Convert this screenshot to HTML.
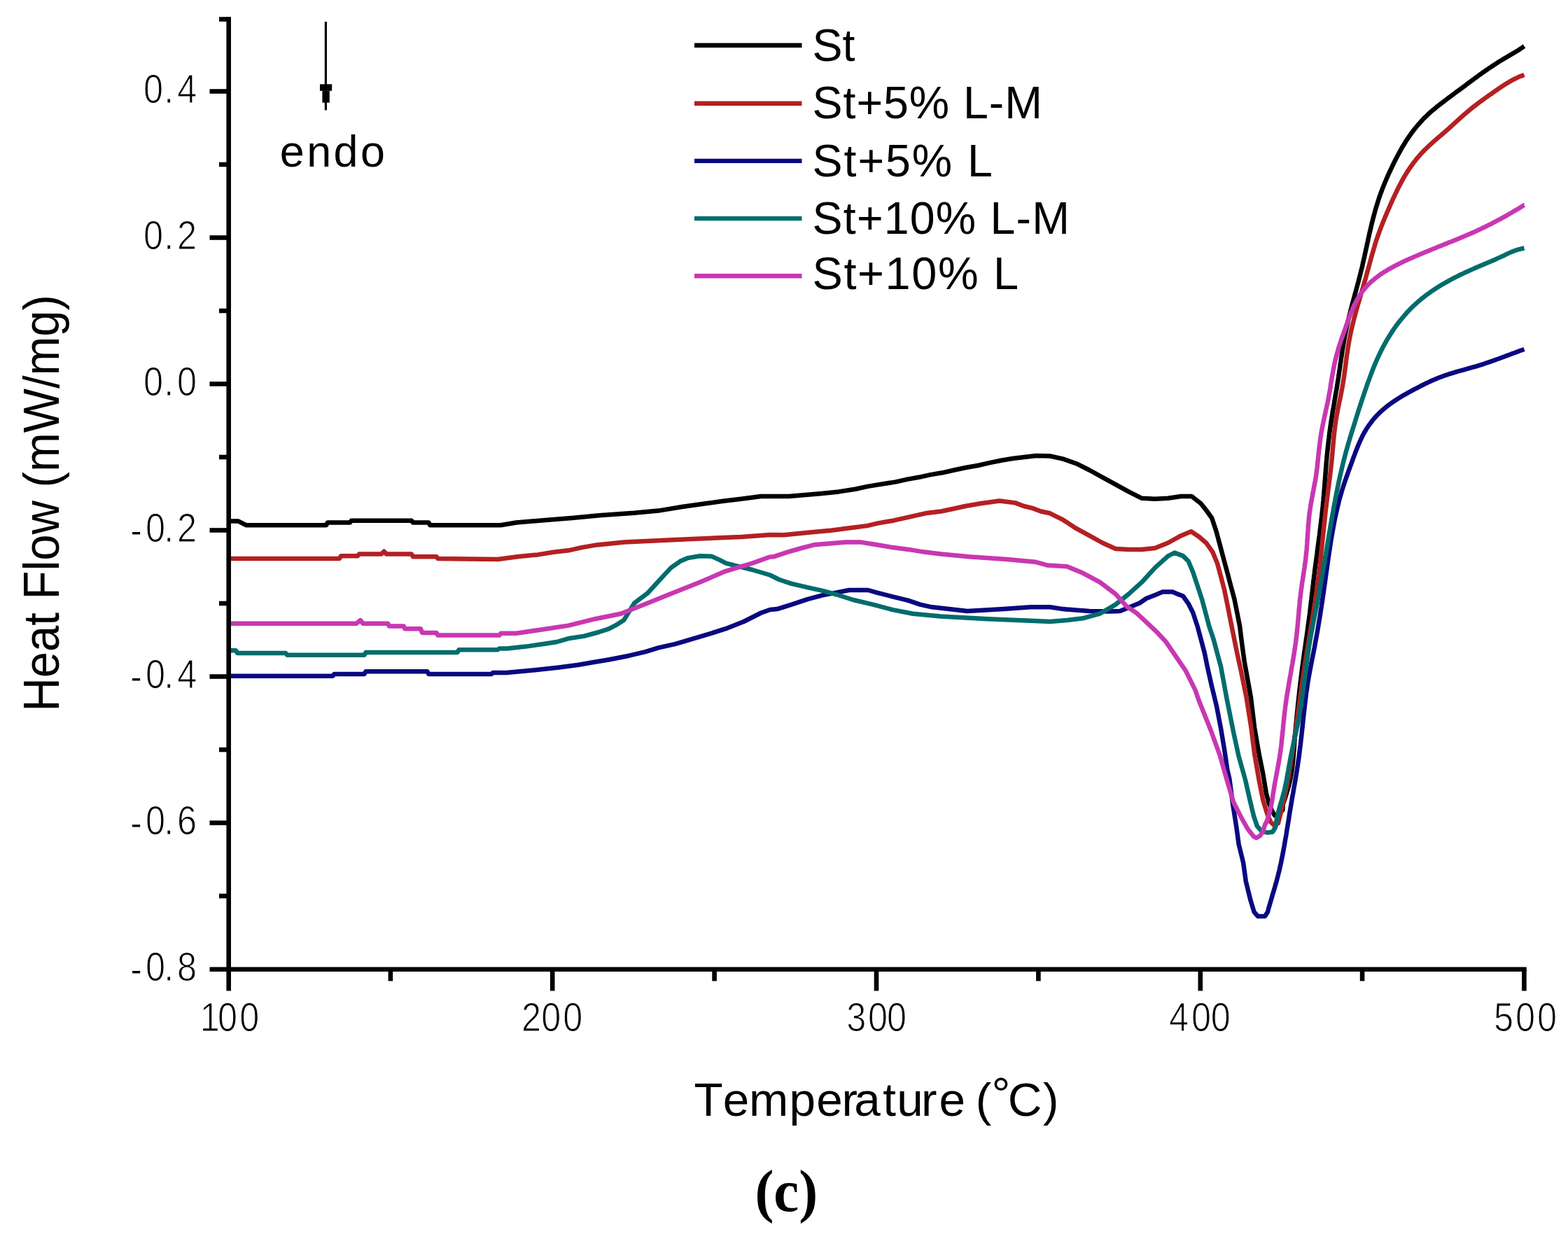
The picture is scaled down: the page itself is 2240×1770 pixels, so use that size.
<!DOCTYPE html>
<html><head><meta charset="utf-8"><title>Heat Flow</title>
<style>html,body{margin:0;padding:0;background:#fff;}svg{display:block;}</style></head>
<body><svg width="2240" height="1770" viewBox="0 0 2240 1770">
<rect x="0" y="0" width="2240" height="1770" fill="#ffffff"/>
<polyline points="326.5,744.6 340.6,744.6 351.9,750.3 466.1,750.3 468.0,746.5 499.9,746.5 502.0,743.7 587.9,743.7 590.0,746.5 612.3,746.5 614.5,750.3 715.3,750.3 737.5,746.5 782.4,742.8 817.1,740.0 856.4,736.2 906.1,732.8 940.7,729.6 974.5,724.0 1008.2,719.3 1031.6,716.0 1058.8,712.8 1087.3,709.0 1127.2,709.0 1171.2,705.2 1198.4,702.4 1221.8,698.7 1239.6,694.9 1256.4,692.1 1279.9,688.4 1296.7,684.6 1312.6,681.8 1329.5,678.1 1346.4,675.3 1363.2,671.5 1381.0,667.8 1397.0,665.0 1413.8,661.2 1431.6,657.5 1448.5,654.7 1480.3,650.9 1500.0,651.5 1518.7,655.6 1537.5,662.2 1556.2,671.5 1575.0,681.8 1593.7,692.1 1612.4,702.4 1631.2,711.8 1650.0,712.8 1668.6,711.8 1687.4,709.0 1702.4,709.0 1715.5,719.3 1724.0,730.0 1731.2,740.0 1737.6,759.3 1742.8,778.6 1747.9,797.9 1753.1,817.2 1758.2,836.6 1763.4,855.9 1767.3,875.2 1771.1,894.5 1774.3,920.2 1777.7,945.0 1786.9,995.9 1792.2,1040.0 1798.7,1077.5 1804.3,1105.5 1809.0,1133.6 1812.8,1147.7 1817.0,1158.0 1821.0,1165.0 1826.0,1164.0 1832.4,1157.0 1832.9,1148.6 1834.0,1145.5 1835.1,1142.4 1836.1,1139.2 1837.1,1136.0 1838.1,1132.8 1839.1,1129.6 1840.1,1126.4 1841.0,1123.1 1841.8,1119.7 1842.6,1116.3 1843.4,1112.9 1844.1,1109.4 1844.7,1105.8 1845.3,1102.2 1845.8,1098.5 1846.3,1094.8 1846.7,1091.0 1847.1,1087.2 1847.5,1083.4 1847.8,1079.5 1848.1,1075.6 1848.5,1071.8 1848.8,1067.9 1849.0,1063.9 1849.3,1060.0 1849.6,1056.1 1849.9,1052.2 1850.2,1048.3 1850.6,1044.5 1850.9,1040.6 1851.2,1036.7 1851.6,1032.9 1852.0,1029.1 1852.3,1025.2 1852.7,1021.4 1853.1,1017.6 1853.5,1013.8 1853.9,1010.0 1854.3,1006.2 1854.7,1002.4 1855.1,998.6 1855.5,994.8 1855.9,991.0 1856.3,987.2 1856.8,983.5 1857.2,979.7 1857.6,975.9 1858.1,972.2 1858.5,968.4 1859.0,964.7 1859.5,961.0 1859.9,957.2 1860.4,953.5 1860.9,949.8 1861.4,946.1 1861.9,942.4 1862.4,938.7 1862.9,935.0 1863.4,931.3 1863.9,927.6 1864.5,924.0 1865.0,920.3 1865.5,916.6 1866.0,912.9 1866.6,909.3 1867.1,905.6 1867.6,901.9 1868.1,898.2 1868.6,894.5 1869.1,890.8 1869.6,887.1 1870.1,883.4 1870.6,879.7 1871.1,875.9 1871.5,872.2 1872.0,868.5 1872.4,864.7 1872.8,860.9 1873.3,857.2 1873.7,853.4 1874.1,849.6 1874.6,845.9 1875.0,842.1 1875.4,838.3 1875.9,834.6 1876.3,830.8 1876.8,827.1 1877.2,823.3 1877.7,819.6 1878.1,815.8 1878.6,812.1 1879.1,808.4 1879.6,804.7 1880.1,801.0 1880.6,797.3 1881.1,793.6 1881.6,789.9 1882.0,786.1 1882.5,782.4 1883.0,778.7 1883.5,775.0 1884.0,771.3 1884.5,767.6 1885.0,763.9 1885.4,760.1 1885.9,756.4 1886.4,752.7 1886.8,748.9 1887.3,745.2 1887.7,741.4 1888.2,737.7 1888.6,733.9 1889.0,730.1 1889.4,726.3 1889.8,722.5 1890.1,718.6 1890.5,714.8 1890.8,710.9 1891.2,707.1 1891.5,703.2 1891.8,699.3 1892.1,695.4 1892.4,691.5 1892.7,687.6 1893.0,683.7 1893.3,679.8 1893.6,675.9 1893.9,672.0 1894.2,668.1 1894.5,664.2 1894.8,660.3 1895.2,656.5 1895.5,652.6 1895.9,648.8 1896.3,645.0 1896.7,641.2 1897.1,637.4 1897.5,633.6 1897.9,629.8 1898.4,626.1 1898.8,622.3 1899.3,618.6 1899.8,614.9 1900.3,611.2 1900.8,607.5 1901.4,603.9 1901.9,600.2 1902.5,596.6 1903.1,593.0 1903.6,589.3 1904.2,585.7 1904.9,582.1 1905.5,578.6 1906.1,575.0 1906.7,571.4 1907.3,567.8 1907.9,564.2 1908.5,560.6 1909.2,557.1 1909.8,553.5 1910.4,549.9 1910.9,546.2 1911.5,542.6 1912.1,539.0 1912.6,535.3 1913.1,531.6 1913.7,528.0 1914.2,524.3 1914.7,520.6 1915.3,517.0 1915.8,513.3 1916.3,509.6 1916.9,506.0 1917.4,502.3 1918.0,498.7 1918.6,495.1 1919.2,491.5 1919.8,487.9 1920.5,484.4 1921.1,480.8 1921.8,477.3 1922.5,473.8 1923.3,470.4 1924.0,466.9 1924.8,463.5 1925.5,460.0 1926.3,456.6 1927.1,453.2 1927.9,449.8 1928.8,446.5 1929.6,443.1 1930.5,439.8 1931.3,436.4 1932.2,433.1 1933.1,429.8 1934.0,426.5 1934.9,423.2 1935.8,419.9 1936.7,416.6 1937.6,413.3 1938.5,410.0 1939.4,406.7 1940.3,403.4 1941.1,400.0 1942.0,396.7 1942.9,393.4 1943.7,390.0 1944.5,386.6 1945.4,383.3 1946.2,379.9 1946.9,376.4 1947.7,373.0 1948.5,369.6 1949.3,366.2 1950.0,362.7 1950.8,359.3 1951.5,355.8 1952.3,352.4 1953.0,348.9 1953.8,345.5 1954.5,342.0 1955.3,338.6 1956.0,335.1 1956.8,331.7 1957.6,328.3 1958.4,324.9 1959.2,321.5 1960.0,318.1 1960.9,314.8 1961.7,311.4 1962.6,308.1 1963.5,304.8 1964.4,301.5 1965.3,298.2 1966.3,295.0 1967.3,291.8 1968.3,288.6 1969.3,285.4 1970.3,282.2 1971.4,279.1 1972.5,276.0 1973.7,273.0 1974.8,269.9 1976.0,266.9 1977.2,263.9 1978.4,260.9 1979.7,258.0 1980.9,255.0 1982.2,252.1 1983.5,249.2 1984.8,246.3 1986.2,243.5 1987.5,240.6 1988.9,237.8 1990.2,234.9 1991.6,232.1 1993.0,229.3 1994.4,226.5 1995.9,223.8 1997.3,221.0 1998.8,218.3 2000.3,215.6 2001.8,212.9 2003.3,210.2 2004.9,207.6 2006.5,205.0 2008.1,202.4 2009.7,199.8 2011.4,197.3 2013.1,194.8 2014.9,192.4 2016.6,189.9 2018.4,187.5 2020.2,185.1 2022.1,182.8 2024.0,180.5 2025.9,178.2 2027.9,176.0 2029.9,173.8 2031.9,171.6 2033.9,169.4 2036.0,167.3 2038.2,165.3 2040.3,163.2 2042.5,161.2 2044.7,159.2 2047.0,157.3 2049.3,155.4 2051.6,153.5 2053.9,151.6 2056.3,149.8 2058.6,147.9 2061.0,146.1 2063.4,144.3 2065.8,142.5 2068.2,140.7 2070.6,138.9 2073.0,137.1 2075.4,135.3 2077.8,133.5 2080.2,131.7 2082.6,129.9 2085.1,128.2 2087.5,126.4 2089.9,124.6 2092.3,122.8 2094.7,121.0 2097.1,119.2 2099.5,117.4 2101.9,115.6 2104.3,113.8 2106.7,112.0 2109.2,110.3 2111.6,108.5 2114.0,106.7 2116.5,105.0 2118.9,103.2 2121.4,101.5 2123.9,99.8 2126.4,98.1 2128.9,96.4 2131.4,94.7 2133.9,93.0 2136.5,91.4 2139.0,89.7 2141.6,88.1 2144.2,86.5 2146.8,84.9 2149.4,83.3 2152.1,81.8 2154.7,80.2 2157.4,78.7 2160.0,77.1 2162.7,75.6 2165.3,74.0 2167.9,72.4 2170.5,70.8 2173.0,69.1 2175.5,67.4 2177.5,66.0" fill="none" stroke="#000000" stroke-width="6.5" stroke-linejoin="round" stroke-linecap="butt"/>
<polyline points="326.5,798.0 484.9,798.0 487.0,794.3 511.1,794.3 513.0,791.5 544.8,791.5 548.6,787.7 552.0,791.5 587.9,791.5 590.0,795.2 623.5,795.2 625.5,798.0 711.2,799.0 739.3,795.2 768.4,792.4 790.9,788.7 814.3,785.9 831.1,782.1 852.7,778.4 892.0,774.6 966.0,770.9 1059.2,767.1 1100.0,764.0 1119.7,764.3 1157.1,760.5 1187.1,757.7 1216.2,754.0 1238.6,751.1 1254.6,747.4 1276.1,743.7 1293.0,739.9 1305.2,737.1 1322.0,733.3 1344.5,730.5 1362.3,726.8 1379.2,723.0 1400.7,719.3 1427.9,715.5 1450.4,718.4 1462.5,723.0 1474.7,725.9 1486.9,730.5 1500.0,733.3 1518.7,742.7 1537.5,754.9 1556.2,765.2 1575.0,775.5 1593.7,784.0 1612.4,784.9 1631.2,784.9 1650.0,783.0 1668.6,775.5 1687.4,765.2 1701.6,759.3 1713.2,767.0 1723.5,776.0 1732.5,788.9 1738.9,804.4 1744.1,823.7 1749.2,843.0 1754.4,868.7 1758.2,888.1 1762.1,907.4 1767.3,933.1 1772.4,956.3 1780.5,995.9 1787.5,1040.0 1792.2,1077.5 1798.7,1114.9 1804.3,1143.0 1810.0,1161.7 1815.0,1174.0 1820.0,1179.0 1826.0,1176.0 1830.0,1160.0 1830.8,1156.6 1831.6,1153.2 1832.4,1149.8 1833.2,1146.4 1834.0,1143.0 1834.8,1139.6 1835.5,1136.1 1836.2,1132.6 1836.9,1129.1 1837.6,1125.6 1838.3,1122.1 1839.0,1118.6 1839.6,1115.0 1840.3,1111.5 1840.9,1107.9 1841.5,1104.3 1842.1,1100.7 1842.7,1097.1 1843.3,1093.5 1843.9,1089.9 1844.5,1086.3 1845.1,1082.7 1845.6,1079.0 1846.2,1075.4 1846.7,1071.7 1847.3,1068.1 1847.8,1064.4 1848.3,1060.7 1848.9,1057.1 1849.4,1053.4 1849.9,1049.7 1850.4,1046.0 1851.0,1042.4 1851.5,1038.7 1852.0,1035.0 1852.5,1031.3 1853.0,1027.6 1853.5,1023.9 1854.0,1020.2 1854.5,1016.5 1855.1,1012.9 1855.6,1009.2 1856.1,1005.5 1856.6,1001.8 1857.1,998.1 1857.6,994.4 1858.1,990.7 1858.7,987.0 1859.2,983.4 1859.7,979.7 1860.2,976.0 1860.7,972.3 1861.3,968.7 1861.8,965.0 1862.3,961.3 1862.9,957.7 1863.4,954.0 1864.0,950.4 1864.5,946.7 1865.1,943.1 1865.7,939.5 1866.2,935.8 1866.8,932.2 1867.4,928.6 1868.0,925.0 1868.6,921.4 1869.2,917.8 1869.8,914.2 1870.4,910.6 1871.0,907.0 1871.6,903.4 1872.2,899.8 1872.8,896.1 1873.3,892.5 1873.9,888.9 1874.5,885.3 1875.1,881.7 1875.7,878.1 1876.3,874.5 1876.9,870.9 1877.4,867.2 1878.0,863.6 1878.6,860.0 1879.1,856.3 1879.6,852.6 1880.2,849.0 1880.7,845.3 1881.2,841.6 1881.7,837.9 1882.2,834.2 1882.7,830.5 1883.2,826.8 1883.7,823.1 1884.1,819.3 1884.6,815.6 1885.0,811.8 1885.5,808.1 1885.9,804.3 1886.3,800.5 1886.7,796.7 1887.1,792.9 1887.5,789.1 1887.9,785.3 1888.3,781.5 1888.7,777.7 1889.1,773.9 1889.5,770.1 1889.9,766.3 1890.3,762.5 1890.7,758.7 1891.1,754.9 1891.5,751.1 1891.9,747.3 1892.3,743.5 1892.7,739.7 1893.1,735.9 1893.5,732.1 1893.9,728.3 1894.4,724.6 1894.8,720.8 1895.3,717.1 1895.7,713.3 1896.2,709.6 1896.7,705.9 1897.1,702.1 1897.6,698.4 1898.1,694.7 1898.6,691.0 1899.0,687.2 1899.5,683.5 1900.0,679.8 1900.4,676.0 1900.9,672.3 1901.3,668.5 1901.7,664.7 1902.1,660.9 1902.5,657.1 1902.9,653.3 1903.2,649.4 1903.6,645.6 1903.9,641.7 1904.3,637.9 1904.6,634.0 1905.0,630.2 1905.3,626.3 1905.7,622.5 1906.1,618.7 1906.5,614.9 1907.0,611.2 1907.4,607.4 1907.9,603.7 1908.5,600.1 1909.1,596.5 1909.7,592.9 1910.4,589.4 1911.0,585.8 1911.7,582.3 1912.4,578.8 1913.1,575.3 1913.9,571.9 1914.6,568.4 1915.3,564.9 1916.0,561.4 1916.7,557.9 1917.4,554.4 1918.0,550.8 1918.6,547.2 1919.2,543.6 1919.8,540.0 1920.3,536.3 1920.8,532.6 1921.3,528.9 1921.8,525.2 1922.3,521.5 1922.8,517.8 1923.2,514.0 1923.7,510.3 1924.2,506.6 1924.8,503.0 1925.3,499.3 1925.9,495.7 1926.4,492.0 1927.1,488.5 1927.7,484.9 1928.4,481.4 1929.1,477.9 1929.8,474.4 1930.6,471.0 1931.4,467.6 1932.2,464.2 1933.0,460.8 1933.9,457.5 1934.7,454.1 1935.6,450.8 1936.5,447.5 1937.4,444.2 1938.3,440.9 1939.2,437.6 1940.1,434.3 1941.1,431.1 1942.0,427.8 1943.0,424.6 1943.9,421.3 1944.9,418.1 1945.8,414.8 1946.8,411.6 1947.7,408.3 1948.7,405.1 1949.6,401.8 1950.6,398.6 1951.5,395.3 1952.4,392.0 1953.3,388.7 1954.2,385.4 1955.1,382.1 1956.0,378.8 1956.9,375.5 1957.8,372.2 1958.7,368.9 1959.6,365.6 1960.5,362.3 1961.5,359.1 1962.4,355.8 1963.4,352.6 1964.3,349.3 1965.3,346.1 1966.3,342.9 1967.4,339.8 1968.5,336.7 1969.6,333.6 1970.7,330.5 1971.8,327.4 1973.0,324.4 1974.2,321.4 1975.3,318.3 1976.6,315.4 1977.8,312.4 1979.0,309.4 1980.3,306.5 1981.5,303.5 1982.8,300.6 1984.1,297.7 1985.3,294.7 1986.6,291.8 1987.9,288.9 1989.2,286.0 1990.5,283.1 1991.9,280.3 1993.2,277.4 1994.6,274.6 1995.9,271.7 1997.3,268.9 1998.7,266.1 2000.2,263.4 2001.6,260.6 2003.1,257.9 2004.6,255.2 2006.1,252.5 2007.7,249.9 2009.3,247.3 2010.9,244.7 2012.6,242.2 2014.3,239.7 2016.0,237.2 2017.8,234.8 2019.5,232.3 2021.4,230.0 2023.2,227.6 2025.1,225.3 2027.1,223.1 2029.0,220.8 2031.0,218.6 2033.1,216.5 2035.1,214.3 2037.3,212.3 2039.4,210.2 2041.6,208.2 2043.8,206.2 2046.0,204.2 2048.2,202.2 2050.4,200.2 2052.7,198.3 2055.0,196.3 2057.2,194.4 2059.5,192.5 2061.7,190.5 2064.0,188.6 2066.2,186.6 2068.5,184.7 2070.7,182.7 2072.9,180.7 2075.1,178.7 2077.3,176.7 2079.5,174.7 2081.7,172.7 2083.9,170.7 2086.1,168.7 2088.3,166.7 2090.5,164.7 2092.8,162.8 2095.0,160.8 2097.3,158.9 2099.6,157.0 2101.9,155.1 2104.2,153.2 2106.6,151.4 2109.0,149.5 2111.3,147.7 2113.7,145.9 2116.2,144.2 2118.6,142.4 2121.0,140.6 2123.5,138.9 2125.9,137.1 2128.4,135.4 2130.9,133.7 2133.4,132.0 2135.8,130.2 2138.3,128.5 2140.8,126.8 2143.3,125.1 2145.8,123.4 2148.3,121.7 2150.9,120.1 2153.5,118.5 2156.1,116.9 2158.8,115.4 2161.5,113.9 2164.3,112.5 2167.1,111.1 2170.0,109.8 2173.0,108.6 2176.1,107.5 2177.5,107.0" fill="none" stroke="#B42022" stroke-width="6.5" stroke-linejoin="round" stroke-linecap="butt"/>
<polyline points="326.5,965.7 475.5,965.7 477.5,962.9 520.5,962.9 522.5,959.2 610.4,959.2 612.4,962.9 702.2,962.9 704.2,961.0 723.4,961.0 763.7,957.3 798.4,953.5 826.5,949.8 848.0,946.0 870.5,942.3 898.6,936.7 922.0,931.1 940.7,925.4 965.1,919.8 990.4,912.3 1015.7,904.8 1039.1,897.3 1062.5,888.0 1087.3,875.5 1100.0,871.0 1110.3,870.1 1130.9,863.6 1153.4,856.1 1174.9,850.4 1213.3,843.0 1240.0,843.0 1252.7,846.7 1275.2,852.3 1297.7,857.9 1314.5,863.6 1331.4,867.3 1382.0,872.9 1433.5,870.1 1472.8,867.3 1500.0,867.3 1518.7,870.1 1556.2,873.0 1585.0,873.5 1600.0,873.0 1614.0,867.2 1628.1,861.5 1637.5,855.0 1651.5,849.4 1660.9,845.6 1675.0,845.6 1684.3,849.4 1690.0,851.5 1697.7,862.3 1704.2,875.2 1710.6,894.5 1715.8,913.8 1720.9,933.1 1724.8,952.4 1731.0,980.0 1738.0,1008.8 1744.0,1040.0 1749.5,1073.2 1753.4,1100.0 1756.4,1112.8 1761.3,1150.0 1766.1,1180.0 1769.7,1206.3 1776.2,1232.7 1779.8,1259.0 1786.3,1285.4 1791.6,1302.9 1797.0,1309.0 1807.0,1309.0 1811.0,1302.9 1811.8,1299.5 1812.7,1296.2 1813.7,1293.0 1814.6,1289.7 1815.6,1286.5 1816.5,1283.2 1817.5,1280.0 1818.4,1276.7 1819.4,1273.5 1820.4,1270.3 1821.3,1267.0 1822.2,1263.7 1823.2,1260.5 1824.1,1257.2 1824.9,1253.8 1825.8,1250.5 1826.6,1247.1 1827.5,1243.8 1828.2,1240.3 1829.0,1236.9 1829.8,1233.5 1830.5,1230.0 1831.2,1226.5 1831.9,1223.0 1832.6,1219.5 1833.3,1216.0 1833.9,1212.4 1834.6,1208.9 1835.2,1205.3 1835.8,1201.7 1836.4,1198.1 1837.1,1194.6 1837.7,1191.0 1838.2,1187.3 1838.8,1183.7 1839.4,1180.1 1840.0,1176.5 1840.6,1172.9 1841.2,1169.3 1841.7,1165.6 1842.3,1162.0 1842.9,1158.4 1843.5,1154.8 1844.1,1151.2 1844.7,1147.6 1845.3,1144.0 1845.9,1140.4 1846.5,1136.8 1847.2,1133.3 1847.8,1129.7 1848.4,1126.1 1849.0,1122.5 1849.7,1119.0 1850.3,1115.4 1850.9,1111.8 1851.5,1108.2 1852.1,1104.6 1852.7,1101.0 1853.2,1097.3 1853.8,1093.7 1854.3,1090.0 1854.9,1086.4 1855.4,1082.7 1855.9,1079.0 1856.4,1075.3 1856.8,1071.5 1857.3,1067.8 1857.8,1064.1 1858.2,1060.3 1858.6,1056.5 1859.1,1052.8 1859.5,1049.0 1859.9,1045.2 1860.3,1041.4 1860.7,1037.6 1861.1,1033.8 1861.5,1030.0 1861.9,1026.2 1862.3,1022.4 1862.7,1018.6 1863.2,1014.9 1863.6,1011.1 1864.0,1007.3 1864.5,1003.6 1864.9,999.8 1865.4,996.1 1865.8,992.3 1866.3,988.6 1866.9,985.0 1867.4,981.3 1867.9,977.6 1868.5,974.0 1869.1,970.4 1869.7,966.8 1870.4,963.3 1871.0,959.7 1871.7,956.2 1872.4,952.7 1873.0,949.1 1873.7,945.6 1874.4,942.1 1875.1,938.6 1875.8,935.1 1876.5,931.6 1877.2,928.1 1877.9,924.6 1878.5,921.0 1879.2,917.5 1879.8,913.9 1880.5,910.4 1881.1,906.8 1881.8,903.3 1882.4,899.7 1883.0,896.1 1883.6,892.5 1884.2,888.9 1884.8,885.3 1885.4,881.7 1886.0,878.1 1886.5,874.4 1887.1,870.8 1887.7,867.2 1888.2,863.5 1888.8,859.9 1889.3,856.2 1889.8,852.5 1890.4,848.9 1890.9,845.2 1891.4,841.5 1891.9,837.8 1892.5,834.2 1893.0,830.5 1893.5,826.8 1894.0,823.1 1894.5,819.4 1895.0,815.7 1895.6,812.1 1896.1,808.4 1896.6,804.7 1897.1,801.0 1897.6,797.3 1898.2,793.7 1898.7,790.0 1899.3,786.4 1899.8,782.7 1900.4,779.1 1900.9,775.4 1901.5,771.8 1902.1,768.2 1902.7,764.6 1903.3,761.0 1904.0,757.5 1904.6,753.9 1905.3,750.4 1905.9,746.8 1906.6,743.3 1907.3,739.8 1908.1,736.4 1908.8,732.9 1909.6,729.5 1910.4,726.1 1911.2,722.7 1912.0,719.3 1912.8,715.9 1913.7,712.6 1914.6,709.3 1915.6,706.1 1916.5,702.8 1917.5,699.6 1918.5,696.4 1919.5,693.2 1920.6,690.1 1921.6,686.9 1922.7,683.8 1923.8,680.7 1924.9,677.6 1926.0,674.5 1927.1,671.4 1928.2,668.3 1929.3,665.2 1930.5,662.2 1931.6,659.1 1932.7,656.0 1933.8,652.9 1935.0,649.9 1936.1,646.8 1937.3,643.8 1938.5,640.8 1939.7,637.8 1940.9,634.8 1942.2,631.9 1943.5,629.0 1944.8,626.1 1946.2,623.3 1947.6,620.5 1949.1,617.8 1950.7,615.2 1952.2,612.5 1953.9,610.0 1955.6,607.5 1957.4,605.1 1959.2,602.7 1961.0,600.3 1962.9,598.0 1964.9,595.8 1966.9,593.6 1969.0,591.5 1971.1,589.4 1973.3,587.4 1975.5,585.4 1977.8,583.5 1980.1,581.6 1982.4,579.7 1984.8,577.9 1987.3,576.2 1989.7,574.4 1992.2,572.7 1994.8,571.1 1997.3,569.4 1999.9,567.8 2002.5,566.2 2005.2,564.7 2007.9,563.2 2010.5,561.6 2013.2,560.1 2016.0,558.7 2018.7,557.2 2021.4,555.7 2024.2,554.3 2026.9,552.8 2029.7,551.4 2032.5,550.0 2035.3,548.6 2038.1,547.2 2041.0,545.9 2043.8,544.5 2046.7,543.2 2049.7,542.0 2052.6,540.7 2055.6,539.5 2058.7,538.4 2061.7,537.2 2064.8,536.1 2068.0,535.1 2071.1,534.0 2074.4,533.1 2077.6,532.1 2080.8,531.1 2084.1,530.2 2087.4,529.3 2090.7,528.4 2094.0,527.5 2097.2,526.5 2100.5,525.6 2103.8,524.7 2107.1,523.8 2110.3,522.8 2113.5,521.8 2116.7,520.8 2119.9,519.8 2123.0,518.7 2126.2,517.7 2129.3,516.6 2132.4,515.5 2135.5,514.4 2138.6,513.3 2141.7,512.2 2144.7,511.0 2147.8,509.9 2150.8,508.7 2153.9,507.6 2157.0,506.5 2160.0,505.3 2163.1,504.2 2166.2,503.1 2169.2,501.9 2172.3,500.8 2175.4,499.7 2177.5,499.0" fill="none" stroke="#0A0880" stroke-width="6.5" stroke-linejoin="round" stroke-linecap="butt"/>
<polyline points="326.5,929.2 336.9,929.2 339.0,932.9 408.0,932.9 410.0,935.7 520.5,935.7 522.5,932.0 653.5,932.0 655.5,928.2 711.0,928.2 713.4,926.4 724.0,926.4 751.5,923.6 777.8,919.8 795.6,917.0 811.5,912.3 834.9,908.6 855.5,903.0 869.6,898.3 880.8,892.6 891.1,886.1 906.1,861.7 924.8,847.7 943.6,827.1 958.5,811.1 971.7,801.8 982.9,797.1 999.8,794.3 1016.6,794.7 1027.9,799.9 1037.2,804.6 1056.0,809.3 1074.7,814.0 1100.0,821.5 1113.1,828.0 1130.0,833.6 1153.4,839.2 1174.9,843.9 1195.6,849.5 1219.0,857.0 1247.1,863.6 1275.2,871.1 1304.2,876.7 1343.6,880.4 1411.0,884.2 1477.9,887.0 1500.0,887.9 1524.4,886.0 1546.8,883.3 1571.2,876.7 1593.7,863.6 1612.4,848.6 1631.2,831.7 1650.0,811.1 1668.6,794.3 1678.0,789.6 1690.0,794.1 1697.7,801.8 1704.2,817.2 1710.6,836.6 1717.0,855.9 1722.2,875.2 1727.3,894.5 1733.8,913.8 1738.9,933.1 1744.1,952.4 1752.1,995.9 1762.4,1047.4 1769.5,1080.0 1779.0,1114.0 1785.6,1143.0 1791.2,1166.4 1796.0,1180.4 1802.0,1187.0 1810.0,1189.5 1818.0,1188.5 1822.0,1182.0 1822.6,1178.8 1823.1,1175.1 1823.7,1171.5 1824.4,1168.0 1825.1,1164.5 1825.9,1161.1 1826.8,1157.8 1827.7,1154.5 1828.6,1151.2 1829.6,1148.0 1830.5,1144.7 1831.5,1141.5 1832.4,1138.2 1833.3,1134.9 1834.2,1131.6 1835.0,1128.2 1835.7,1124.7 1836.5,1121.3 1837.2,1117.8 1837.9,1114.3 1838.5,1110.7 1839.2,1107.2 1839.8,1103.6 1840.5,1100.1 1841.1,1096.5 1841.7,1092.9 1842.4,1089.4 1843.0,1085.8 1843.7,1082.3 1844.4,1078.8 1845.1,1075.3 1845.8,1071.8 1846.5,1068.3 1847.3,1064.9 1848.0,1061.4 1848.8,1058.0 1849.5,1054.5 1850.3,1051.1 1851.1,1047.7 1851.8,1044.2 1852.5,1040.7 1853.3,1037.3 1854.0,1033.8 1854.7,1030.3 1855.3,1026.7 1856.0,1023.2 1856.6,1019.6 1857.2,1016.0 1857.8,1012.4 1858.4,1008.8 1858.9,1005.1 1859.5,1001.5 1860.0,997.8 1860.5,994.1 1861.0,990.4 1861.5,986.7 1862.0,983.0 1862.5,979.3 1863.0,975.6 1863.5,971.9 1864.0,968.2 1864.4,964.4 1864.9,960.7 1865.4,957.0 1865.9,953.3 1866.4,949.6 1866.9,945.9 1867.4,942.2 1867.9,938.5 1868.4,934.8 1868.9,931.1 1869.5,927.5 1870.0,923.8 1870.6,920.2 1871.2,916.6 1871.8,913.0 1872.4,909.4 1873.1,905.9 1873.7,902.3 1874.4,898.8 1875.1,895.3 1875.7,891.7 1876.4,888.2 1877.1,884.7 1877.8,881.2 1878.5,877.7 1879.2,874.2 1879.9,870.7 1880.6,867.2 1881.3,863.7 1882.0,860.2 1882.6,856.6 1883.3,853.1 1883.9,849.5 1884.6,846.0 1885.3,842.5 1885.9,838.9 1886.5,835.3 1887.2,831.8 1887.8,828.2 1888.4,824.6 1889.1,821.1 1889.7,817.5 1890.3,813.9 1890.9,810.3 1891.5,806.7 1892.1,803.1 1892.7,799.5 1893.3,795.9 1893.9,792.3 1894.5,788.7 1895.1,785.1 1895.7,781.5 1896.3,777.9 1896.9,774.3 1897.5,770.7 1898.1,767.1 1898.7,763.5 1899.3,759.9 1899.9,756.3 1900.5,752.7 1901.1,749.1 1901.7,745.5 1902.4,742.0 1903.0,738.4 1903.6,734.8 1904.3,731.3 1904.9,727.7 1905.5,724.1 1906.2,720.6 1906.9,717.1 1907.5,713.5 1908.2,710.0 1908.9,706.5 1909.6,703.0 1910.3,699.5 1911.0,696.0 1911.7,692.5 1912.4,689.0 1913.2,685.6 1913.9,682.1 1914.7,678.7 1915.5,675.3 1916.3,671.9 1917.1,668.5 1917.9,665.1 1918.7,661.7 1919.5,658.3 1920.4,655.0 1921.3,651.7 1922.1,648.3 1923.0,645.0 1923.9,641.7 1924.9,638.5 1925.8,635.2 1926.7,631.9 1927.7,628.7 1928.6,625.4 1929.6,622.2 1930.6,619.0 1931.6,615.8 1932.6,612.6 1933.6,609.4 1934.6,606.2 1935.6,603.0 1936.6,599.8 1937.6,596.6 1938.6,593.4 1939.6,590.2 1940.6,587.0 1941.6,583.8 1942.7,580.7 1943.7,577.5 1944.7,574.3 1945.8,571.2 1946.8,568.0 1947.9,564.9 1948.9,561.7 1950.0,558.6 1951.1,555.5 1952.2,552.4 1953.2,549.2 1954.3,546.1 1955.5,543.1 1956.6,540.0 1957.7,536.9 1958.9,533.9 1960.0,530.8 1961.2,527.8 1962.4,524.8 1963.6,521.8 1964.9,518.9 1966.1,515.9 1967.4,513.0 1968.7,510.1 1970.1,507.3 1971.4,504.4 1972.8,501.6 1974.2,498.8 1975.6,496.0 1977.1,493.3 1978.6,490.6 1980.1,487.9 1981.6,485.2 1983.2,482.6 1984.8,480.0 1986.4,477.4 1988.1,474.9 1989.7,472.3 1991.4,469.8 1993.2,467.4 1994.9,464.9 1996.7,462.5 1998.5,460.1 2000.4,457.8 2002.3,455.5 2004.2,453.2 2006.1,450.9 2008.1,448.7 2010.0,446.4 2012.1,444.3 2014.1,442.1 2016.2,440.0 2018.3,437.9 2020.5,435.9 2022.7,433.9 2024.9,431.9 2027.1,429.9 2029.4,428.0 2031.7,426.1 2034.1,424.3 2036.4,422.4 2038.8,420.6 2041.3,418.9 2043.7,417.1 2046.2,415.4 2048.7,413.7 2051.3,412.1 2053.8,410.4 2056.4,408.8 2059.0,407.2 2061.7,405.7 2064.3,404.1 2067.0,402.6 2069.7,401.1 2072.4,399.6 2075.2,398.2 2077.9,396.7 2080.7,395.3 2083.5,393.9 2086.3,392.5 2089.2,391.2 2092.0,389.8 2094.9,388.5 2097.8,387.2 2100.7,385.9 2103.6,384.6 2106.5,383.3 2109.4,382.0 2112.4,380.8 2115.3,379.5 2118.3,378.3 2121.2,377.0 2124.2,375.8 2127.1,374.5 2130.1,373.3 2133.0,372.0 2135.9,370.7 2138.8,369.4 2141.7,368.1 2144.6,366.8 2147.5,365.5 2150.3,364.1 2153.1,362.7 2156.0,361.4 2158.9,360.1 2161.9,358.9 2165.0,357.8 2168.1,356.7 2171.4,355.8 2174.8,355.0 2177.5,354.5" fill="none" stroke="#026C6C" stroke-width="6.5" stroke-linejoin="round" stroke-linecap="butt"/>
<polyline points="326.5,890.8 509.2,890.8 514.8,886.1 518.6,890.8 554.2,890.8 556.0,894.5 576.7,894.5 578.5,898.3 601.0,898.3 603.0,903.9 623.5,903.9 625.5,907.6 713.4,907.6 715.4,904.8 737.5,904.8 775.0,899.2 812.0,893.6 850.0,884.2 887.0,876.7 924.8,861.7 962.0,846.7 999.8,831.8 1037.0,815.8 1074.7,804.6 1100.0,795.5 1105.6,795.2 1125.3,788.6 1145.0,783.0 1162.8,778.3 1208.7,774.6 1230.0,774.6 1252.7,778.3 1275.2,782.1 1297.7,784.9 1320.1,788.6 1344.5,791.4 1383.8,795.2 1438.2,798.9 1478.5,802.7 1495.7,807.4 1524.4,809.3 1546.8,818.6 1571.2,831.7 1593.7,848.6 1609.4,866.2 1623.4,875.6 1637.5,888.7 1651.5,901.8 1665.6,916.8 1679.6,937.4 1693.7,958.0 1707.7,986.1 1712.4,1000.0 1730.0,1044.0 1743.0,1080.0 1752.3,1112.8 1762.0,1145.6 1774.4,1170.0 1783.0,1185.0 1790.8,1194.8 1795.0,1197.0 1800.0,1194.0 1804.0,1188.0 1807.0,1178.4 1808.5,1175.7 1809.8,1172.8 1811.0,1169.8 1812.0,1166.6 1813.0,1163.4 1813.9,1160.1 1814.7,1156.7 1815.5,1153.3 1816.1,1149.7 1816.8,1146.2 1817.4,1142.6 1818.0,1139.0 1818.5,1135.3 1819.1,1131.7 1819.7,1128.1 1820.3,1124.5 1820.9,1120.9 1821.5,1117.3 1822.2,1113.8 1822.8,1110.2 1823.5,1106.7 1824.2,1103.2 1824.8,1099.6 1825.5,1096.1 1826.1,1092.5 1826.8,1089.0 1827.4,1085.4 1828.0,1081.8 1828.5,1078.1 1829.1,1074.5 1829.6,1070.8 1830.1,1067.1 1830.5,1063.3 1830.9,1059.5 1831.3,1055.7 1831.7,1051.9 1832.1,1048.1 1832.5,1044.3 1832.9,1040.5 1833.2,1036.6 1833.6,1032.8 1834.0,1029.0 1834.4,1025.2 1834.8,1021.4 1835.2,1017.6 1835.7,1013.9 1836.1,1010.1 1836.6,1006.4 1837.1,1002.7 1837.7,999.1 1838.2,995.4 1838.8,991.8 1839.4,988.2 1840.0,984.6 1840.6,981.0 1841.2,977.4 1841.8,973.8 1842.4,970.2 1843.0,966.6 1843.7,963.1 1844.3,959.5 1844.9,955.9 1845.5,952.3 1846.2,948.8 1846.8,945.2 1847.4,941.6 1848.0,938.0 1848.6,934.4 1849.1,930.7 1849.7,927.1 1850.2,923.4 1850.8,919.8 1851.3,916.1 1851.7,912.3 1852.2,908.6 1852.6,904.8 1853.0,901.0 1853.4,897.2 1853.8,893.4 1854.1,889.5 1854.5,885.7 1854.8,881.8 1855.2,878.0 1855.5,874.1 1855.8,870.2 1856.2,866.4 1856.6,862.6 1856.9,858.7 1857.3,854.9 1857.8,851.2 1858.2,847.4 1858.7,843.7 1859.2,840.0 1859.7,836.3 1860.2,832.6 1860.8,829.0 1861.4,825.4 1861.9,821.7 1862.5,818.1 1863.0,814.4 1863.6,810.8 1864.1,807.1 1864.6,803.4 1865.1,799.7 1865.5,795.9 1865.9,792.1 1866.3,788.3 1866.7,784.5 1867.0,780.6 1867.3,776.7 1867.5,772.7 1867.8,768.8 1868.0,764.8 1868.3,760.9 1868.6,757.0 1868.8,753.0 1869.1,749.1 1869.5,745.3 1869.8,741.4 1870.2,737.6 1870.6,733.8 1871.1,730.1 1871.7,726.5 1872.2,722.8 1872.8,719.2 1873.5,715.7 1874.1,712.1 1874.8,708.6 1875.4,705.0 1876.1,701.5 1876.8,698.0 1877.5,694.5 1878.1,690.9 1878.8,687.4 1879.4,683.8 1880.0,680.2 1880.5,676.5 1881.0,672.8 1881.5,669.1 1881.9,665.3 1882.3,661.5 1882.7,657.7 1883.1,653.9 1883.5,650.1 1883.9,646.3 1884.3,642.5 1884.8,638.8 1885.2,635.0 1885.7,631.3 1886.1,627.5 1886.7,623.9 1887.2,620.2 1887.8,616.6 1888.5,613.1 1889.2,609.6 1889.9,606.1 1890.6,602.6 1891.3,599.1 1892.1,595.7 1892.8,592.2 1893.6,588.8 1894.3,585.3 1895.1,581.9 1895.8,578.4 1896.6,575.0 1897.3,571.5 1898.0,568.0 1898.6,564.4 1899.2,560.8 1899.9,557.3 1900.5,553.7 1901.0,550.0 1901.6,546.4 1902.2,542.8 1902.8,539.2 1903.4,535.6 1904.1,532.1 1904.7,528.5 1905.4,525.0 1906.1,521.5 1906.8,518.0 1907.6,514.6 1908.4,511.2 1909.3,507.9 1910.2,504.6 1911.1,501.3 1912.0,498.0 1913.0,494.8 1914.0,491.6 1915.1,488.5 1916.1,485.3 1917.2,482.2 1918.3,479.1 1919.4,476.0 1920.5,472.9 1921.6,469.8 1922.7,466.7 1923.8,463.6 1924.9,460.5 1926.0,457.4 1927.1,454.3 1928.3,451.3 1929.4,448.2 1930.6,445.2 1931.9,442.3 1933.1,439.3 1934.4,436.4 1935.8,433.6 1937.2,430.8 1938.7,428.1 1940.2,425.4 1941.8,422.8 1943.4,420.2 1945.2,417.8 1947.0,415.4 1948.9,413.1 1950.8,410.8 1952.8,408.6 1954.8,406.4 1957.0,404.4 1959.1,402.3 1961.4,400.4 1963.7,398.5 1966.0,396.6 1968.4,394.8 1970.8,393.0 1973.3,391.3 1975.8,389.6 1978.4,388.0 1981.0,386.4 1983.6,384.8 1986.3,383.3 1989.0,381.8 1991.7,380.3 1994.5,378.9 1997.3,377.5 2000.1,376.1 2002.9,374.7 2005.8,373.4 2008.6,372.0 2011.5,370.7 2014.4,369.4 2017.4,368.2 2020.3,366.9 2023.2,365.6 2026.2,364.4 2029.1,363.1 2032.1,361.9 2035.0,360.6 2038.0,359.4 2041.0,358.2 2044.0,357.0 2047.0,355.8 2050.0,354.6 2052.9,353.3 2055.9,352.1 2058.9,350.9 2061.9,349.7 2064.9,348.5 2067.9,347.3 2070.9,346.1 2073.9,344.9 2076.9,343.7 2079.9,342.5 2082.9,341.3 2085.8,340.0 2088.8,338.8 2091.7,337.5 2094.7,336.3 2097.6,335.0 2100.6,333.8 2103.5,332.5 2106.4,331.2 2109.3,329.9 2112.1,328.5 2115.0,327.2 2117.8,325.8 2120.7,324.5 2123.5,323.1 2126.3,321.7 2129.1,320.3 2131.9,318.9 2134.6,317.4 2137.4,316.0 2140.1,314.5 2142.9,313.1 2145.6,311.6 2148.3,310.1 2151.0,308.6 2153.7,307.1 2156.3,305.5 2159.0,304.0 2161.6,302.4 2164.3,300.9 2166.9,299.3 2169.6,297.8 2172.2,296.2 2174.8,294.6 2177.4,293.0 2177.5,293.0" fill="none" stroke="#C837B2" stroke-width="6.5" stroke-linejoin="round" stroke-linecap="butt"/>
<g stroke="#000" stroke-width="6.6" fill="none" stroke-linecap="butt">
<line x1="326.7" y1="24.0" x2="326.7" y2="1415.5"/>
<line x1="299.5" y1="1384.8" x2="2180.7" y2="1384.8"/>
<line x1="299.5" y1="130.5" x2="326.7" y2="130.5"/>
<line x1="299.5" y1="339.5" x2="326.7" y2="339.5"/>
<line x1="299.5" y1="548.5" x2="326.7" y2="548.5"/>
<line x1="299.5" y1="757.5" x2="326.7" y2="757.5"/>
<line x1="299.5" y1="966.5" x2="326.7" y2="966.5"/>
<line x1="299.5" y1="1175.5" x2="326.7" y2="1175.5"/>
<line x1="313" y1="27.5" x2="326.7" y2="27.5"/>
<line x1="313" y1="235.0" x2="326.7" y2="235.0"/>
<line x1="313" y1="444.0" x2="326.7" y2="444.0"/>
<line x1="313" y1="653.0" x2="326.7" y2="653.0"/>
<line x1="313" y1="862.0" x2="326.7" y2="862.0"/>
<line x1="313" y1="1071.0" x2="326.7" y2="1071.0"/>
<line x1="313" y1="1280.0" x2="326.7" y2="1280.0"/>
<line x1="789.2" y1="1384.8" x2="789.2" y2="1415.5"/>
<line x1="1252.0" y1="1384.8" x2="1252.0" y2="1415.5"/>
<line x1="1714.8" y1="1384.8" x2="1714.8" y2="1415.5"/>
<line x1="2177.4" y1="1384.8" x2="2177.4" y2="1415.5"/>
<line x1="557.9" y1="1384.8" x2="557.9" y2="1401.5"/>
<line x1="1020.6" y1="1384.8" x2="1020.6" y2="1401.5"/>
<line x1="1483.4" y1="1384.8" x2="1483.4" y2="1401.5"/>
<line x1="1946.1" y1="1384.8" x2="1946.1" y2="1401.5"/>
</g>
<text font-family='"Liberation Sans", Arial, sans-serif' font-size='57.3' transform='translate(0 146.80) scale(0.88 1)' x='232.85 266.21 287.65' y='0' stroke='#fff' stroke-width='1.2'>0.4</text>
<text font-family='"Liberation Sans", Arial, sans-serif' font-size='57.3' transform='translate(0 355.80) scale(0.88 1)' x='232.85 266.21 287.51' y='0' stroke='#fff' stroke-width='1.2'>0.2</text>
<text font-family='"Liberation Sans", Arial, sans-serif' font-size='57.3' transform='translate(0 564.80) scale(0.88 1)' x='232.85 266.21 287.51' y='0' stroke='#fff' stroke-width='1.2'>0.0</text>
<text font-family='"Liberation Sans", Arial, sans-serif' font-size='57.3' transform='translate(0 773.80) scale(0.88 1)' x='211.54 236.37 266.21 287.51' y='0' stroke='#fff' stroke-width='1.2'><tspan dy='3.0'>-</tspan><tspan dy='-3.0'>0.2</tspan></text>
<text font-family='"Liberation Sans", Arial, sans-serif' font-size='57.3' transform='translate(0 982.80) scale(0.88 1)' x='211.54 236.37 266.21 287.65' y='0' stroke='#fff' stroke-width='1.2'><tspan dy='3.0'>-</tspan><tspan dy='-3.0'>0.4</tspan></text>
<text font-family='"Liberation Sans", Arial, sans-serif' font-size='57.3' transform='translate(0 1191.80) scale(0.88 1)' x='211.54 236.37 266.21 287.37' y='0' stroke='#fff' stroke-width='1.2'><tspan dy='3.0'>-</tspan><tspan dy='-3.0'>0.6</tspan></text>
<text font-family='"Liberation Sans", Arial, sans-serif' font-size='57.3' transform='translate(0 1400.80) scale(0.88 1)' x='211.54 236.37 266.21 287.37' y='0' stroke='#fff' stroke-width='1.2'><tspan dy='3.0'>-</tspan><tspan dy='-3.0'>0.8</tspan></text>
<text font-family='"Liberation Sans", Arial, sans-serif' font-size='57.3' transform='translate(0 1473.00) scale(0.88 1)' x='324.86 353.53 388.99' y='0' stroke='#fff' stroke-width='1.2'>100</text>
<text font-family='"Liberation Sans", Arial, sans-serif' font-size='57.3' transform='translate(0 1473.00) scale(0.88 1)' x='846.60 878.64 913.99' y='0' stroke='#fff' stroke-width='1.2'>200</text>
<text font-family='"Liberation Sans", Arial, sans-serif' font-size='57.3' transform='translate(0 1473.00) scale(0.88 1)' x='1374.02 1408.99 1439.78' y='0' stroke='#fff' stroke-width='1.2'>300</text>
<text font-family='"Liberation Sans", Arial, sans-serif' font-size='57.3' transform='translate(0 1473.00) scale(0.88 1)' x='1897.65 1934.10 1965.58' y='0' stroke='#fff' stroke-width='1.2'>400</text>
<text font-family='"Liberation Sans", Arial, sans-serif' font-size='57.3' transform='translate(0 1473.00) scale(0.88 1)' x='2425.12 2460.12 2495.46' y='0' stroke='#fff' stroke-width='1.2'>500</text>
<text font-family='"Liberation Sans", Arial, sans-serif' font-size='67.5' transform='translate(0 1593.70)' x='991.44 1032.77 1069.99 1127.42 1166.37 1202.58 1220.25 1261.28 1281.27 1315.88 1341.47 1367.59 1393.71 1416.60 1439.86 1490.05' y='0'>Temperature (<tspan dy='-7.50'>°</tspan><tspan dy='7.50'>C</tspan>)</text>
<text font-family='"Liberation Sans", Arial, sans-serif' font-size='73.0' transform='translate(84.30 1016.60) rotate(-90)' x='0' y='0' textLength='595.54' lengthAdjust='spacingAndGlyphs'>Heat Flow (mW/mg)</text>
<line x1="992" y1="64.8" x2="1145.5" y2="64.8" stroke="#000000" stroke-width="6.4"/>
<text font-family='"Liberation Sans", Arial, sans-serif' font-size='64.55' x='1160.60' y='87.40' textLength='60.80' lengthAdjust='spacing'>St</text>
<line x1="992" y1="147.7" x2="1145.5" y2="147.7" stroke="#B42022" stroke-width="6.4"/>
<text font-family='"Liberation Sans", Arial, sans-serif' font-size='64.55' x='1160.60' y='169.20' textLength='328.40' lengthAdjust='spacing'>St+5% L-M</text>
<line x1="992" y1="229.9" x2="1145.5" y2="229.9" stroke="#0A0880" stroke-width="6.4"/>
<text font-family='"Liberation Sans", Arial, sans-serif' font-size='64.55' x='1160.60' y='252.00' textLength='257.20' lengthAdjust='spacing'>St+5% L</text>
<line x1="992" y1="312.1" x2="1145.5" y2="312.1" stroke="#026C6C" stroke-width="6.4"/>
<text font-family='"Liberation Sans", Arial, sans-serif' font-size='64.55' x='1160.60' y='333.80' textLength='367.40' lengthAdjust='spacing'>St+10% L-M</text>
<line x1="992" y1="394.3" x2="1145.5" y2="394.3" stroke="#C837B2" stroke-width="6.4"/>
<text font-family='"Liberation Sans", Arial, sans-serif' font-size='64.94' x='1160.60' y='413.40' textLength='294.40' lengthAdjust='spacing'>St+10% L</text>
<line x1="465.4" y1="31" x2="465.4" y2="157.4" stroke="#000" stroke-width="3.2"/>
<rect x="457" y="120.3" width="17.2" height="9.5" fill="#000"/>
<rect x="460.4" y="129.8" width="10.4" height="16.8" fill="#000"/>
<text font-family='"Liberation Sans", Arial, sans-serif' font-size='62.9' x='399.80' y='238.20' textLength='150.20' lengthAdjust='spacing'>endo</text>
<text font-family='"Liberation Serif", "Times New Roman", serif' font-size='85.61' x='1078.40' y='1729.60' textLength='89.80' lengthAdjust='spacingAndGlyphs' font-weight='bold'>(c)</text>
</svg></body></html>
